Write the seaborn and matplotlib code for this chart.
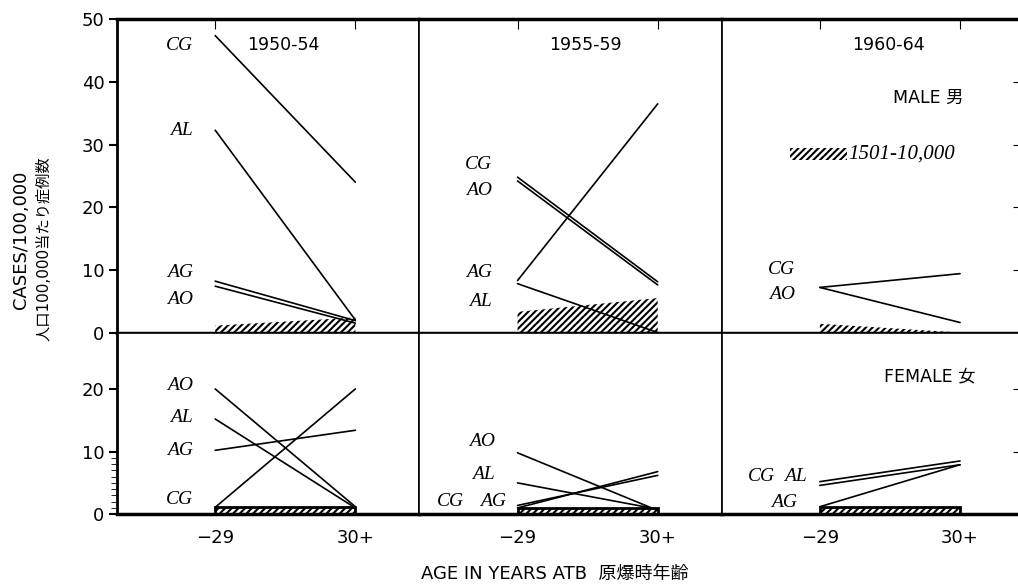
import numpy as np
import pandas as pd
import seaborn as sns
import matplotlib.pyplot as plt
from matplotlib.patches import Rectangle

periods = ["1950-54", "1955-59", "1960-64"]
diseases = ["CG", "AL", "AG", "AO"]
age_groups = ["\u221229", "30+"]

# cases per 100,000, order CG, AL, AG, AO (nan = not shown)
male_under30 = [[47.4, 32.3, 8.2, 7.4], [24.8, 7.8, 8.3, 24.2], [7.2, np.nan, np.nan, 7.2]]
male_over30 = [[24.0, 2.0, 1.9, 1.5], [8.1, 0.0, 36.5, 7.6], [9.4, np.nan, np.nan, 1.6]]
female_under30 = [[1.1, 15.2, 10.2, 20.0], [1.0, 5.0, 1.4, 9.8], [5.2, 4.6, 1.2, np.nan]]
female_over30 = [[20.0, 1.0, 13.4, 1.2], [6.8, 0.8, 6.2, 0.6], [8.5, 7.9, 7.9, np.nan]]

# hatched band, 1501-10,000 group (under 30, 30+)
male_hatch = [[1.1, 2.4], [3.3, 5.5], [1.4, 0.0]]
female_hatch = [[1.2, 1.2], [1.0, 1.0], [1.2, 1.2]]

# label placement (text, x, y) per panel
male_labels = [
    [("CG", -0.16, 45.8), ("AL", -0.16, 32.3), ("AG", -0.16, 9.6), ("AO", -0.16, 5.2)],
    [("CG", -0.18, 26.8), ("AO", -0.18, 22.7), ("AG", -0.18, 9.6), ("AL", -0.18, 5.0)],
    [("CG", -0.18, 10.1), ("AO", -0.18, 6.0)],
]
female_labels = [
    [("AO", -0.16, 20.5), ("AL", -0.16, 15.5), ("AG", -0.16, 10.2), ("CG", -0.16, 2.4)],
    [("AO", -0.16, 11.6), ("AL", -0.16, 6.3), ("CG", -0.38, 2.1), ("AG", -0.08, 2.1)],
    [("CG", -0.32, 6.1), ("AL", -0.09, 6.1), ("AG", -0.16, 1.9)],
]


def make_frame(under, over):
    rows = []
    for p, period in enumerate(periods):
        for d, dis in enumerate(diseases):
            for a, vals in enumerate([under, over]):
                rows.append({"period": period, "disease": dis, "age": a, "rate": vals[p][d]})
    return pd.DataFrame(rows).dropna()


male_df = make_frame(male_under30, male_over30)
female_df = make_frame(female_under30, female_over30)

sns.set_style("white")
plt.rcParams["font.family"] = ["DejaVu Sans", "Noto Sans CJK JP"]
plt.rcParams["text.color"] = "black"
plt.rcParams["xtick.color"] = "black"
plt.rcParams["ytick.color"] = "black"
plt.rcParams["hatch.linewidth"] = 1.5
serif_it = dict(family="Liberation Serif", style="italic")

fig, axes = plt.subplots(2, 3, figsize=(10.18, 5.85), dpi=100,
                         gridspec_kw={"height_ratios": [50, 29], "hspace": 0, "wspace": 0})
fig.subplots_adjust(left=0.115, right=1.006, top=0.967, bottom=0.121)

for row, (df, hatch, labels, top) in enumerate([(male_df, male_hatch, male_labels, 50),
                                                 (female_df, female_hatch, female_labels, 29)]):
    for col, period in enumerate(periods):
        ax = axes[row, col]
        sub = df[df["period"] == period]
        lo, hi = hatch[col]
        ax.fill_between([0, 1], [0, 0], [lo, hi], facecolor="white", edgecolor="black",
                        hatch="/////", linewidth=0, zorder=1)
        if row == 1:
            ax.add_patch(Rectangle((0, 0), 1, lo, fill=False, edgecolor="black", linewidth=2, zorder=2))
        sns.lineplot(data=sub, x="age", y="rate", units="disease", estimator=None,
                     color="black", linewidth=1.2, ax=ax, legend=False, zorder=3)
        for txt, x, y in labels[col]:
            ax.text(x, y, txt, ha="right", va="center", fontsize=14, **serif_it)

        ax.set_xlim(-0.70, 1.457)
        ax.set_ylim(0, top)
        ax.set_xlabel("")
        ax.set_ylabel("")
        for s in ax.spines.values():
            s.set_color("black")
            s.set_linewidth(1.2)
        ax.spines["bottom"].set_linewidth(2.5)
        if row == 0:
            ax.spines["top"].set_linewidth(2.5)
            ax.set_xticks([0, 1])
            ax.tick_params(axis="x", bottom=False, top=True, direction="in", length=7,
                           labelbottom=False)
            ax.set_title(period, fontsize=12.5, x=0.55, y=0.875)
            yt = [0, 10, 20, 30, 40, 50]
        else:
            ax.set_xticks([0, 1], age_groups)
            ax.tick_params(axis="x", bottom=False, top=False, labelsize=13, pad=7)
            yt = [0, 10, 20]
        ax.set_yticks(yt)
        if col == 0:
            ax.spines["left"].set_linewidth(2)
            ax.tick_params(axis="y", left=True, direction="out", length=6, width=1.5,
                           labelsize=13, pad=3)
            if row == 1:
                ax.set_yticks(range(1, 10), minor=True)
                ax.tick_params(axis="y", which="minor", left=True, direction="out", length=4)
        elif col == 2:
            ax.tick_params(axis="y", left=False, right=True, direction="in", length=8,
                           labelleft=False)
        else:
            ax.tick_params(axis="y", left=False, labelleft=False)

# legend text in the last column
axm = axes[0, 2]
axm.text(0.80, 0.75, "MALE 男", transform=axm.transAxes, ha="right", va="center", fontsize=12.5)
axm.add_patch(Rectangle((0.225, 0.55), 0.19, 0.04, transform=axm.transAxes, facecolor="white",
                        edgecolor="black", hatch="/////", linewidth=0))
axm.text(0.42, 0.57, "1501-10,000", transform=axm.transAxes, ha="left", va="center",
         fontsize=15, **serif_it)
axf = axes[1, 2]
axf.text(0.84, 0.76, "FEMALE 女", transform=axf.transAxes, ha="right", va="center", fontsize=12.5)

fig.text(0.545, 0.004, "AGE IN YEARS ATB  原爆時年齢", ha="center", va="bottom", fontsize=13)
fig.text(0.021, 0.59, "CASES/100,000", rotation=90, ha="center", va="center", fontsize=13)
fig.text(0.043, 0.575, "人口100,000当たり症例数", rotation=90, ha="center", va="center", fontsize=11)

fig.savefig("out.png", dpi=100)
